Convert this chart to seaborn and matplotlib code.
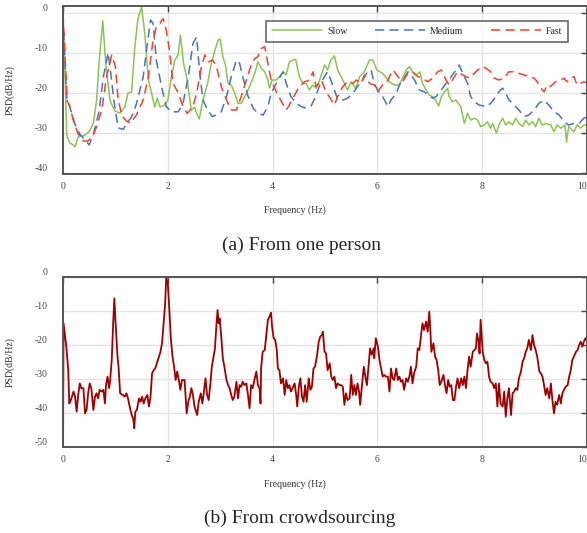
import matplotlib
matplotlib.use("Agg")
import matplotlib.pyplot as plt
import numpy as np
import pandas as pd
import seaborn as sns

# ---- (a) one person: three walking speeds ----
slow_f = [0.00, 0.05, 0.07, 0.13, 0.20, 0.23, 0.29, 0.42, 0.51, 0.58, 0.64, 0.69, 0.76, 0.82, 0.90, 0.99,
          1.09, 1.18, 1.24, 1.31, 1.37, 1.43, 1.50, 1.56, 1.63, 1.69, 1.75, 1.80, 1.85, 1.94, 2.00, 2.07,
          2.13, 2.20, 2.24, 2.30, 2.37, 2.45, 2.51, 2.55, 2.60, 2.67, 2.76, 2.83, 2.90, 2.96, 3.00, 3.05,
          3.10, 3.15, 3.21, 3.28, 3.34, 3.40, 3.47, 3.56, 3.66, 3.72, 3.78, 3.85, 3.91, 3.94, 3.99, 4.07,
          4.13, 4.20, 4.26, 4.32, 4.39, 4.44, 4.51, 4.58, 4.64, 4.70, 4.77, 4.83, 4.90, 4.99, 5.05, 5.11,
          5.18, 5.24, 5.34, 5.43, 5.50, 5.59, 5.66, 5.75, 5.85, 5.91, 5.99, 6.10, 6.23, 6.32, 6.42, 6.48,
          6.55, 6.61, 6.67, 6.74, 6.81, 6.86, 6.93, 6.99, 7.05, 7.11, 7.17, 7.22, 7.28, 7.34, 7.37, 7.43,
          7.50, 7.59, 7.66, 7.72, 7.78, 7.85, 7.91, 7.97, 8.04, 8.10, 8.16, 8.20, 8.27, 8.32, 8.39, 8.45,
          8.51, 8.58, 8.64, 8.70, 8.77, 8.83, 8.89, 8.96, 9.02, 9.08, 9.15, 9.21, 9.31, 9.37, 9.43, 9.50,
          9.58, 9.61, 9.65, 9.75, 9.81, 9.88, 9.94, 10.0]
slow_psd = [-2.0, -20.0, -30.5, -32.5, -33.0, -33.5, -31.0, -30.5, -29.5, -27.5, -22.0, -12.0, -2.0, -13.5, -22.0, -24.5,
            -25.0, -23.5, -20.0, -19.7, -8.5, -1.5, 1.5, -5.0, -16.8, -20.0, -23.5, -21.3, -23.5, -23.0, -21.8, -16.0,
            -12.0, -10.3, -5.5, -12.5, -16.8, -24.3, -23.5, -25.0, -26.5, -21.75, -17.6, -12.6, -9.25, -6.8, -6.5, -10.9,
            -13.0, -17.6, -18.0, -20.1, -22.6, -22.6, -20.9, -18.4, -15.1, -12.2, -13.8, -14.7, -16.75, -18.8, -16.75, -16.75,
            -15.9, -14.7, -15.5, -12.2, -11.75, -11.6, -15.9, -17.6, -17.6, -19.25, -18.0, -18.8, -16.75, -13.0, -14.25, -11.75,
            -10.75, -14.25, -16.75, -19.25, -17.2, -18.9, -15.9, -14.7, -11.75, -11.75, -14.25, -15.1, -17.2, -18.0, -18.0, -16.3,
            -14.25, -13.4, -14.7, -15.5, -14.7, -17.6, -19.25, -20.5, -20.9, -21.75, -23.25, -21.0, -19.7, -18.8, -20.9, -22.2,
            -21.75, -23.4, -27.6, -25.1, -26.75, -26.3, -26.75, -28.4, -28.0, -27.2, -28.8, -27.6, -30.0, -28.0, -26.3, -28.0,
            -27.2, -28.0, -26.3, -27.6, -28.4, -26.75, -28.0, -27.2, -28.4, -26.3, -28.0, -27.6, -28.0, -29.7, -28.0, -28.8,
            -28.0, -32.3, -28.4, -29.7, -28.0, -28.8, -28.0, -28.0]

medium_f = [0.00, 0.07, 0.13, 0.23, 0.32, 0.42, 0.50, 0.58, 0.69, 0.77, 0.86, 0.92, 0.97, 1.05, 1.15, 1.21,
            1.31, 1.40, 1.53, 1.61, 1.67, 1.72, 1.78, 1.88, 1.97, 2.07, 2.20, 2.29, 2.39, 2.48, 2.55, 2.61,
            2.67, 2.76, 2.85, 2.93, 3.02, 3.12, 3.21, 3.31, 3.37, 3.43, 3.53, 3.63, 3.72, 3.82, 3.91, 3.97,
            4.07, 4.13, 4.20, 4.26, 4.35, 4.45, 4.55, 4.64, 4.73, 4.82, 4.90, 4.99, 5.05, 5.11, 5.18, 5.24,
            5.34, 5.43, 5.53, 5.62, 5.72, 5.81, 5.88, 5.94, 6.00, 6.10, 6.20, 6.26, 6.36, 6.42, 6.51, 6.58,
            6.64, 6.71, 6.80, 6.89, 6.99, 7.05, 7.12, 7.22, 7.31, 7.37, 7.43, 7.50, 7.56, 7.63, 7.72, 7.78,
            7.85, 7.94, 8.07, 8.16, 8.26, 8.32, 8.39, 8.45, 8.51, 8.61, 8.70, 8.80, 8.89, 8.99, 9.08, 9.18,
            9.27, 9.37, 9.47, 9.56, 9.65, 9.75, 9.85, 9.94, 10.0]
medium_psd = [-1.0, -21.0, -23.5, -27.8, -30.3, -31.7, -33.0, -30.3, -24.5, -16.0, -9.9, -16.0, -21.75, -28.7, -29.1, -27.6,
              -26.0, -22.8, -16.0, -7.6, -1.75, -2.6, -11.75, -18.4, -23.4, -24.7, -24.7, -22.6, -16.0, -7.6, -6.0, -15.1,
              -21.75, -24.25, -25.9, -25.5, -24.7, -20.9, -16.0, -11.75, -12.6, -15.9, -20.75, -23.8, -25.1, -25.5, -23.4, -20.1,
              -17.6, -16.3, -14.7, -17.6, -20.9, -22.6, -23.4, -23.8, -23.4, -20.9, -18.0, -15.9, -14.7, -16.75, -19.25, -21.6,
              -21.75, -21.3, -20.1, -18.4, -16.75, -14.7, -14.25, -17.6, -19.25, -20.9, -23.4, -21.75, -20.1, -18.0, -16.3, -14.7,
              -15.5, -16.75, -19.25, -19.7, -20.5, -21.3, -20.9, -19.25, -17.6, -16.75, -15.5, -14.25, -13.0, -15.1, -17.6, -20.9,
              -22.2, -23.0, -23.4, -22.6, -20.9, -19.7, -18.8, -20.1, -21.75, -23.0, -24.25, -25.9, -25.5, -24.25, -22.6, -21.75,
              -23.0, -24.7, -25.5, -27.2, -28.0, -27.6, -27.6, -26.3, -26.0]

fast_f = [0.00, 0.08, 0.13, 0.20, 0.29, 0.39, 0.48, 0.58, 0.64, 0.74, 0.83, 0.93, 1.00, 1.05, 1.12, 1.21,
          1.29, 1.40, 1.53, 1.63, 1.71, 1.78, 1.85, 1.91, 1.97, 2.03, 2.10, 2.20, 2.29, 2.37, 2.48, 2.55,
          2.64, 2.71, 2.78, 2.86, 2.93, 3.02, 3.12, 3.21, 3.31, 3.40, 3.50, 3.60, 3.66, 3.72, 3.78, 3.85,
          3.91, 3.97, 4.07, 4.17, 4.26, 4.32, 4.42, 4.51, 4.61, 4.71, 4.77, 4.83, 4.93, 5.02, 5.12, 5.18,
          5.24, 5.34, 5.43, 5.53, 5.60, 5.69, 5.75, 5.85, 5.94, 6.00, 6.10, 6.17, 6.23, 6.30, 6.39, 6.48,
          6.58, 6.67, 6.77, 6.86, 6.96, 7.05, 7.15, 7.22, 7.31, 7.37, 7.43, 7.53, 7.63, 7.75, 7.82, 7.91,
          8.01, 8.07, 8.16, 8.23, 8.32, 8.42, 8.51, 8.61, 8.70, 8.80, 8.89, 8.99, 9.05, 9.12, 9.18, 9.24,
          9.30, 9.40, 9.50, 9.56, 9.62, 9.69, 9.75, 9.81, 9.88, 9.94, 10.0]
fast_psd = [0.0, -22.0, -23.4, -27.0, -30.3, -32.0, -32.0, -30.5, -28.4, -24.25, -16.0, -10.5, -13.4, -21.3, -25.6, -27.0,
            -27.6, -25.5, -21.75, -16.0, -7.6, -3.4, -2.6, -1.4, -4.25, -9.25, -17.6, -20.0, -23.4, -25.1, -23.4, -20.1,
            -13.4, -10.5, -12.2, -11.75, -13.4, -18.4, -21.75, -24.25, -24.25, -20.9, -16.75, -12.6, -11.4, -10.9, -8.9, -8.4,
            -12.6, -16.75, -19.7, -22.2, -24.25, -23.0, -20.5, -18.4, -17.2, -16.75, -14.7, -18.4, -16.75, -19.7, -21.75, -23.0,
            -20.9, -18.4, -17.2, -17.6, -16.75, -17.6, -15.5, -17.6, -18.0, -19.7, -18.0, -17.6, -15.9, -14.25, -15.9, -17.2,
            -15.1, -14.7, -15.9, -16.3, -17.2, -16.3, -14.7, -14.25, -16.75, -18.0, -16.75, -14.7, -15.5, -16.3, -15.5, -14.25,
            -13.4, -13.8, -14.7, -16.3, -16.75, -16.3, -14.7, -14.7, -15.1, -15.5, -15.9, -16.3, -17.2, -18.8, -19.7, -18.0,
            -18.4, -17.2, -16.75, -16.3, -17.2, -16.3, -15.9, -18.0, -17.6, -17.2, -17.5]

# ---- (b) crowdsourcing ----
crowd_f = [0.00, 0.01, 0.06, 0.10, 0.12, 0.15, 0.20, 0.23, 0.26, 0.29, 0.32, 0.35, 0.39, 0.42, 0.45, 0.48,
           0.51, 0.54, 0.58, 0.61, 0.64, 0.67, 0.70, 0.74, 0.77, 0.80, 0.82, 0.85, 0.88, 0.90, 0.93, 0.96,
           0.98, 1.00, 1.04, 1.06, 1.09, 1.14, 1.18, 1.21, 1.24, 1.28, 1.31, 1.34, 1.36, 1.38, 1.41, 1.45,
           1.48, 1.51, 1.54, 1.57, 1.61, 1.64, 1.67, 1.70, 1.73, 1.76, 1.80, 1.83, 1.86, 1.89, 1.92, 1.95,
           1.97, 2.00, 2.03, 2.06, 2.09, 2.12, 2.15, 2.18, 2.21, 2.24, 2.27, 2.32, 2.36, 2.39, 2.42, 2.45,
           2.48, 2.51, 2.56, 2.59, 2.63, 2.66, 2.69, 2.72, 2.75, 2.78, 2.81, 2.84, 2.88, 2.90, 2.93, 2.95,
           2.97, 2.99, 3.02, 3.05, 3.08, 3.12, 3.15, 3.18, 3.21, 3.24, 3.27, 3.31, 3.34, 3.37, 3.40, 3.43,
           3.46, 3.50, 3.53, 3.56, 3.59, 3.62, 3.66, 3.69, 3.72, 3.75, 3.77, 3.78, 3.81, 3.85, 3.88, 3.91,
           3.94, 3.97, 3.99, 4.02, 4.05, 4.08, 4.10, 4.13, 4.16, 4.20, 4.23, 4.26, 4.29, 4.32, 4.35, 4.39,
           4.42, 4.45, 4.47, 4.50, 4.53, 4.56, 4.59, 4.62, 4.65, 4.69, 4.72, 4.75, 4.78, 4.81, 4.85, 4.88,
           4.91, 4.94, 4.96, 4.99, 5.02, 5.05, 5.09, 5.12, 5.15, 5.18, 5.21, 5.24, 5.28, 5.31, 5.34, 5.37,
           5.40, 5.43, 5.47, 5.50, 5.53, 5.56, 5.59, 5.62, 5.65, 5.67, 5.71, 5.74, 5.77, 5.80, 5.83, 5.86,
           5.89, 5.93, 5.94, 5.97, 6.01, 6.04, 6.07, 6.10, 6.13, 6.16, 6.20, 6.23, 6.26, 6.29, 6.32, 6.36,
           6.39, 6.42, 6.45, 6.48, 6.51, 6.55, 6.58, 6.61, 6.64, 6.67, 6.70, 6.74, 6.77, 6.80, 6.83, 6.86,
           6.89, 6.93, 6.96, 6.99, 7.01, 7.03, 7.07, 7.10, 7.13, 7.16, 7.19, 7.23, 7.26, 7.29, 7.32, 7.35,
           7.38, 7.41, 7.44, 7.47, 7.50, 7.53, 7.56, 7.60, 7.63, 7.66, 7.69, 7.72, 7.75, 7.78, 7.82, 7.85,
           7.88, 7.90, 7.93, 7.95, 7.97, 8.01, 8.04, 8.07, 8.10, 8.13, 8.16, 8.20, 8.23, 8.26, 8.29, 8.32,
           8.35, 8.39, 8.42, 8.45, 8.48, 8.51, 8.55, 8.58, 8.61, 8.64, 8.67, 8.70, 8.74, 8.77, 8.80, 8.83,
           8.86, 8.89, 8.93, 8.96, 8.99, 9.02, 9.05, 9.09, 9.12, 9.15, 9.18, 9.21, 9.24, 9.28, 9.31, 9.34,
           9.37, 9.40, 9.43, 9.47, 9.50, 9.53, 9.56, 9.59, 9.63, 9.66, 9.69, 9.72, 9.75, 9.79, 9.82, 9.85,
           9.88, 9.91, 9.94, 9.97, 10.0]
crowd_psd = [-52.0, -13.6, -20.0, -27.4, -37.2, -36.2, -33.7, -35.2, -39.6, -34.7, -31.3, -32.7, -32.7, -40.1, -39.1, -34.2,
             -31.3, -32.7, -39.1, -35.2, -34.2, -35.7, -33.2, -33.7, -33.2, -37.2, -31.8, -29.3, -32.7, -30.3, -24.4, -12.6,
             -6.3, -12.6, -23.4, -26.4, -34.2, -34.7, -35.2, -34.2, -35.7, -38.6, -40.6, -41.6, -44.5, -39.6, -39.1, -35.7,
             -36.7, -35.2, -37.2, -35.7, -34.7, -38.1, -35.2, -28.3, -27.4, -26.9, -24.9, -23.4, -22.0, -19.5, -13.6, -7.7,
             0.0, -1.9, -9.7, -18.5, -23.4, -26.4, -30.3, -27.8, -30.3, -33.2, -30.3, -30.3, -40.1, -36.7, -35.2, -32.7,
             -34.7, -38.1, -40.6, -36.7, -34.2, -37.2, -33.7, -29.8, -34.7, -36.2, -31.8, -26.4, -22.9, -21.0, -13.6, -9.7,
             -13.6, -12.2, -17.5, -23.9, -26.4, -30.3, -31.8, -32.7, -34.7, -36.2, -35.2, -30.8, -35.7, -31.8, -32.3, -30.8,
             -31.8, -31.3, -34.7, -38.6, -31.8, -32.7, -29.8, -27.8, -31.8, -32.7, -37.2, -26.9, -22.0, -21.5, -17.1, -12.6,
             -11.7, -10.5, -14.6, -18.0, -18.5, -21.5, -26.9, -27.4, -31.3, -29.8, -34.7, -30.3, -32.7, -31.8, -33.7, -32.3,
             -31.3, -34.7, -38.1, -32.3, -29.8, -35.2, -36.7, -31.8, -36.7, -29.8, -33.2, -32.3, -26.9, -26.4, -22.9, -19.0,
             -17.5, -17.1, -16.1, -21.9, -22.5, -27.4, -25.4, -29.3, -30.3, -29.3, -32.7, -31.3, -31.8, -31.8, -32.3, -37.6,
             -34.2, -36.2, -35.7, -28.8, -34.7, -31.8, -34.7, -31.3, -33.7, -37.6, -31.3, -26.4, -29.3, -31.8, -26.4, -21.0,
             -22.9, -21.0, -23.9, -18.0, -20.5, -24.4, -26.9, -29.3, -28.8, -29.3, -29.3, -33.7, -26.9, -29.8, -30.3, -26.9,
             -30.3, -29.3, -30.8, -30.3, -33.2, -29.8, -30.8, -29.3, -26.4, -31.3, -28.3, -26.4, -21.0, -21.5, -17.5, -13.6,
             -15.6, -13.1, -16.1, -10.2, -15.6, -22.0, -19.5, -23.4, -24.4, -27.4, -31.8, -30.3, -28.8, -31.8, -34.2, -30.3,
             -32.3, -31.8, -36.2, -36.2, -32.3, -29.8, -32.7, -29.8, -31.8, -29.3, -32.7, -27.4, -23.4, -26.4, -22.0, -21.5,
             -21.0, -16.6, -19.0, -22.5, -12.6, -22.0, -24.4, -25.4, -24.9, -29.3, -30.8, -31.3, -32.7, -31.3, -38.1, -31.3,
             -37.2, -38.1, -33.7, -41.1, -35.7, -32.7, -40.6, -34.2, -33.7, -32.7, -33.2, -29.8, -27.8, -24.9, -23.9, -22.0,
             -21.0, -18.5, -21.5, -17.1, -20.0, -21.5, -23.4, -27.8, -28.3, -29.3, -31.8, -34.7, -32.7, -35.7, -31.3, -36.2,
             -40.1, -36.7, -37.6, -34.7, -37.2, -34.2, -33.2, -32.3, -31.8, -29.3, -27.4, -24.4, -23.4, -22.0, -21.5, -20.0,
             -19.0, -20.5, -19.0, -18.0, -19.0]

freq_ticks = [0, 2, 4, 6, 8, 10]

sns.set_style("white")
plt.rcParams['font.family'] = ['Liberation Serif', 'DejaVu Serif']
plt.rcParams['axes.unicode_minus'] = False

person = pd.concat([
    pd.DataFrame({'Frequency': slow_f, 'PSD': slow_psd, 'Speed': 'Slow'}),
    pd.DataFrame({'Frequency': medium_f, 'PSD': medium_psd, 'Speed': 'Medium'}),
    pd.DataFrame({'Frequency': fast_f, 'PSD': fast_psd, 'Speed': 'Fast'}),
], ignore_index=True)
crowd = pd.DataFrame({'Frequency': crowd_f, 'PSD': crowd_psd})

W, H = 587, 533
fig = plt.figure(figsize=(W / 100, H / 100), dpi=100)
ax1 = fig.add_axes([63 / W, 1 - 174 / H, 524 / W, 168 / H])
ax2 = fig.add_axes([63 / W, 1 - 447 / H, 524 / W, 170 / H])

palette = {'Slow': '#8dc353', 'Medium': '#4a72c2', 'Fast': '#f2412f'}
dashes = {'Slow': '', 'Medium': (6, 3.5), 'Fast': (6, 3.5)}
sns.lineplot(data=person, x='Frequency', y='PSD', hue='Speed', style='Speed',
             palette=palette, dashes=dashes, estimator=None, linewidth=1.1, ax=ax1)
sns.lineplot(data=crowd, x='Frequency', y='PSD', color='#9e0000',
             estimator=None, linewidth=1.3, ax=ax2)

for ax, ylim, yticks in [(ax1, (-40.25, 1.75), [0, -10, -20, -30, -40]),
                         (ax2, (-50, 0), [0, -10, -20, -30, -40, -50])]:
    ax.set_xlim(0, 10)
    ax.set_ylim(*ylim)
    ax.set_xticks(freq_ticks)
    ax.set_yticks(yticks)
    ax.grid(True, color='#e4e4e4', linewidth=1.0)
    ax.set_axisbelow(True)
    for s in ax.spines.values():
        s.set_color('#555555')
        s.set_linewidth(1.4)
    ax.tick_params(direction='in', length=4, width=1, top=True, right=True,
                   color='#444444', labelcolor='#444444', labelsize=7)
    ax.tick_params(axis='x', pad=6)
    ax.tick_params(axis='y', pad=11)
    for t in ax.get_yticklabels():
        t.set_va('bottom')
    # last frequency label sits at the figure edge
    ax.get_xticklabels()[-1].set_ha('right')
    ax.set_xlabel('Frequency (Hz)', fontsize=7, color='#333333')
    ax.set_ylabel('PSD(dB/Hz)', fontsize=7, color='#333333')
    ax.yaxis.set_label_coords(-0.092, 0.5)
ax1.xaxis.set_label_coords(0.443, -0.185)
ax2.xaxis.set_label_coords(0.443, -0.188)

handles, labels = ax1.get_legend_handles_labels()
leg = ax1.legend(handles, labels, loc='upper right', bbox_to_anchor=((573 - 63) / 524, (174 - 16) / 168),
                 ncol=3, fontsize=7, handlelength=5.2, handletextpad=0.5, columnspacing=2.8,
                 frameon=True, fancybox=False, borderpad=0.6)
leg.get_frame().set_edgecolor('#444444')
leg.get_frame().set_linewidth(1.2)

fig.text(302 / W, 1 - 245 / H, '(a) From one person', ha='center', va='center', fontsize=14)
fig.text(300 / W, 1 - 518 / H, '(b) From crowdsourcing', ha='center', va='center', fontsize=14)

fig.savefig('out.png', dpi=100)
